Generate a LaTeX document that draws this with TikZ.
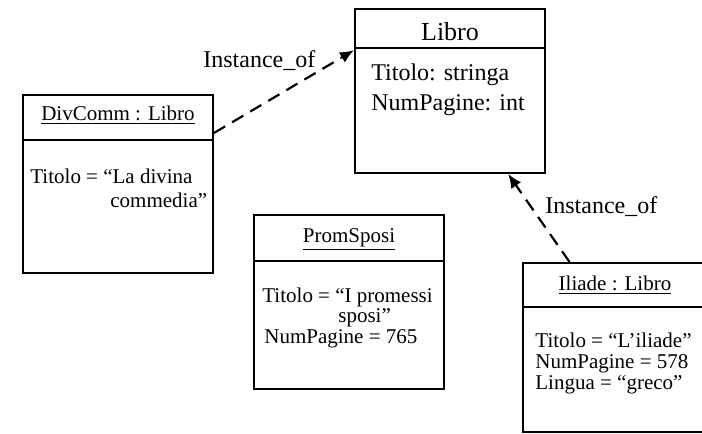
\documentclass[tikz,border=0pt]{standalone}
\usepackage{fontspec}
\setmainfont{Liberation Serif}
\usepackage{tikz}
\usetikzlibrary{arrows.meta}

\begin{document}
\begin{tikzpicture}[
    x=0.5pt, y=-0.5pt,
    box/.style={draw,line width=1pt,inner sep=0pt},
    sep/.style={line width=1pt},
    ttl/.style={anchor=base,inner sep=0pt,font=\fontsize{10.5}{12}\selectfont},
    txt/.style={anchor=base west,inner sep=0pt,font=\fontsize{10.5}{12}\selectfont},
    big/.style={anchor=base west,inner sep=0pt,font=\fontsize{12}{14}\selectfont},
    inst/.style={line width=1.1pt,dash pattern=on 6.5pt off 4pt,-{Latex[length=7pt,width=6pt]}},
]
    \useasboundingbox (0,0) rectangle (702,434);
    % class
    \node[box,minimum width=95pt,minimum height=82pt] (libro) at (450,91) {};
    \draw[sep] (libro.west |- 0,48) -- (libro.east |- 0,48);
    \node[anchor=base,inner sep=0pt,font=\fontsize{13}{15}\selectfont] (libroname) at (450,40) {Libro};
    \node[big] (librot) at (371,80) {Titolo: stringa};
    \node[big] (librop) at (371,110) {NumPagine: int};
    % objects
    \node[box,minimum width=95pt,minimum height=89pt] (divcomm) at (118,184) {};
    \draw[sep] (divcomm.west |- 0,140) -- (divcomm.east |- 0,140);
    \node[ttl] (divcommname) at (118,120) {\underline{DivComm : Libro}};
    \node[txt] (divcommt) at (30,183) {Titolo = “La divina};
    \node[txt] (divcommt2) at (110,207) {commedia”};

    \node[box,minimum width=95pt,minimum height=87pt] (promsposi) at (349,302) {};
    \draw[sep] (promsposi.west |- 0,261) -- (promsposi.east |- 0,261);
    \node[ttl] (promsposiname) at (349,242) {\underline{PromSposi}};
    \node[txt] (promsposit) at (262,302) {Titolo = “I promessi};
    \node[txt] (promsposit2) at (338,322) {sposi”};
    \node[txt] (promsposip) at (264,343) {NumPagine = 765};

    \node[box,minimum width=92pt,minimum height=84.5pt] (iliade) at (615,347.5) {};
    \draw[sep] (iliade.west |- 0,307) -- (iliade.east |- 0,307);
    \node[ttl] (iliadename) at (615,290) {\underline{Iliade : Libro}};
    \node[txt] (iliadet) at (535,347) {Titolo = “L’iliade”};
    \node[txt] (iliadep) at (535,368) {NumPagine = 578};
    \node[txt] (iliadel) at (535,389) {Lingua = “greco”};
    % links
    \draw[inst] (divcomm.28) -- (libro.157);
    \node[big] (inst1) at (203,67) {Instance\_of};
    \draw[inst] (iliade.118) -- (libro.-55);
    \node[big] (inst2) at (545,213) {Instance\_of};
\end{tikzpicture}
\end{document}
